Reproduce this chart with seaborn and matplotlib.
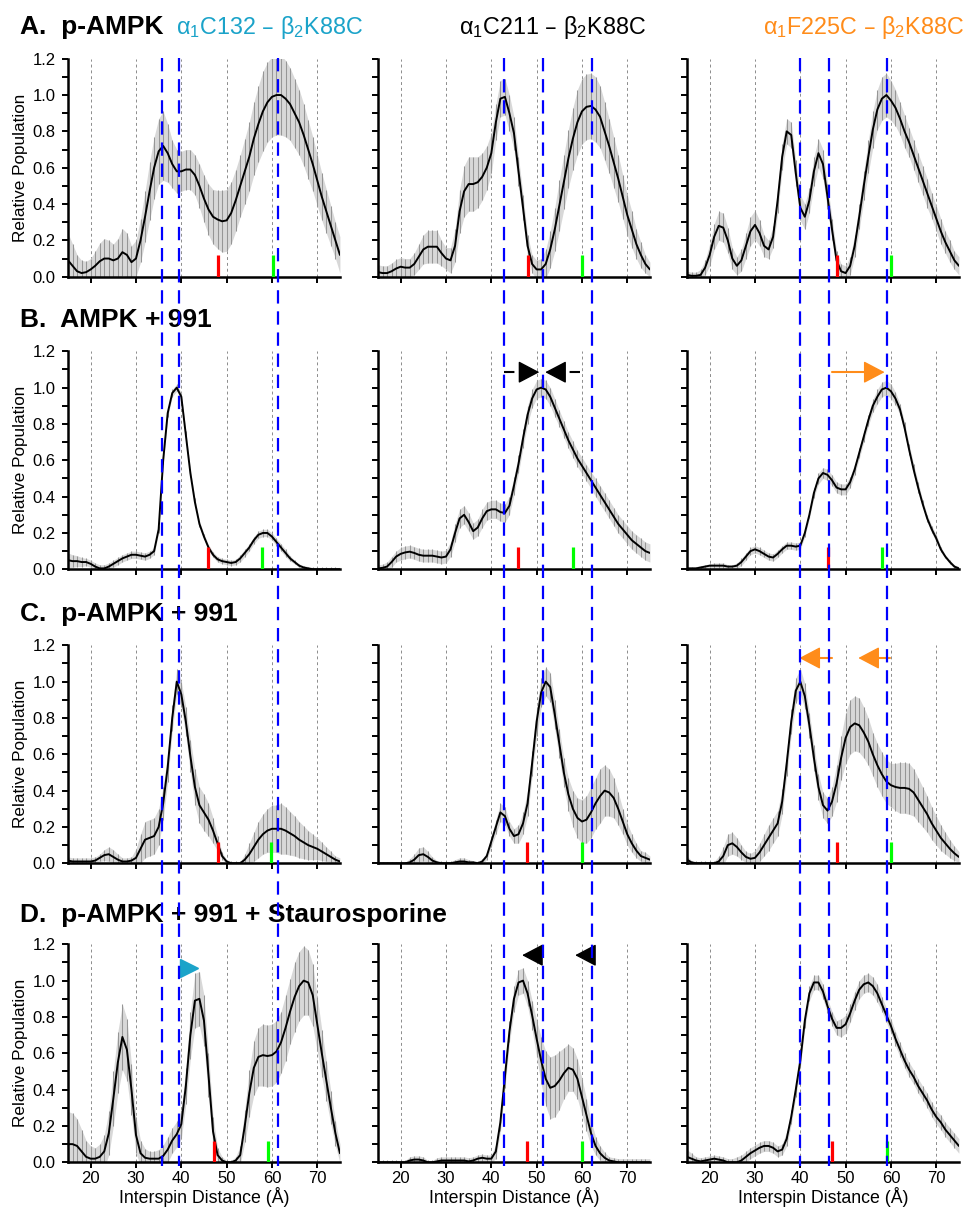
import matplotlib
matplotlib.use("Agg")
import matplotlib.pyplot as plt
import matplotlib.transforms as mtransforms
from matplotlib.lines import Line2D
from matplotlib.ticker import MultipleLocator, FormatStrFormatter
import seaborn as sns

# interspin distance grid (Angstrom), one value per panel sample
distance = list(range(15, 76))

# row A: p-AMPK
a1_pop = [0.09, 0.06, 0.03, 0.02, 0.025, 0.04, 0.06, 0.085, 0.10, 0.10,
          0.09, 0.10, 0.135, 0.12, 0.08, 0.10, 0.20, 0.33, 0.47, 0.60,
          0.69, 0.72, 0.68, 0.62, 0.58, 0.58, 0.59, 0.59, 0.56, 0.50,
          0.43, 0.37, 0.33, 0.315, 0.305, 0.31, 0.35, 0.42, 0.50, 0.58,
          0.66, 0.76, 0.84, 0.91, 0.96, 0.99, 1.00, 1.00, 0.98, 0.95,
          0.90, 0.85, 0.78, 0.70, 0.62, 0.53, 0.44, 0.36, 0.28, 0.20,
          0.12]
a1_err = [0.15, 0.12, 0.09, 0.07, 0.06, 0.06, 0.08, 0.10, 0.11, 0.10,
          0.09, 0.11, 0.13, 0.12, 0.09, 0.10, 0.12, 0.14, 0.16, 0.17,
          0.18, 0.19, 0.16, 0.13, 0.12, 0.11, 0.11, 0.11, 0.11, 0.12,
          0.13, 0.14, 0.15, 0.16, 0.17, 0.17, 0.17, 0.17, 0.17, 0.18,
          0.19, 0.20, 0.21, 0.22, 0.22, 0.22, 0.22, 0.22, 0.21, 0.20,
          0.19, 0.18, 0.17, 0.16, 0.15, 0.14, 0.13, 0.12, 0.11, 0.10,
          0.10]
a2_pop = [0.025, 0.02, 0.02, 0.03, 0.045, 0.055, 0.05, 0.05, 0.07, 0.11,
          0.15, 0.165, 0.165, 0.165, 0.13, 0.10, 0.09, 0.17, 0.36, 0.47,
          0.51, 0.51, 0.52, 0.55, 0.60, 0.68, 0.85, 0.98, 0.99, 0.90,
          0.79, 0.58, 0.38, 0.17, 0.07, 0.04, 0.04, 0.07, 0.15, 0.26,
          0.39, 0.52, 0.65, 0.76, 0.85, 0.91, 0.935, 0.94, 0.92, 0.88,
          0.80, 0.72, 0.63, 0.54, 0.44, 0.34, 0.26, 0.18, 0.12, 0.07,
          0.04]
a2_err = [0.04, 0.04, 0.04, 0.045, 0.05, 0.05, 0.05, 0.05, 0.06, 0.07,
          0.08, 0.09, 0.09, 0.09, 0.07, 0.06, 0.07, 0.09, 0.12, 0.14,
          0.15, 0.15, 0.14, 0.13, 0.12, 0.11, 0.10, 0.10, 0.10, 0.10,
          0.09, 0.08, 0.07, 0.06, 0.05, 0.05, 0.06, 0.08, 0.10, 0.12,
          0.14, 0.15, 0.16, 0.17, 0.18, 0.18, 0.18, 0.18, 0.18, 0.17,
          0.16, 0.15, 0.14, 0.13, 0.12, 0.11, 0.10, 0.08, 0.07, 0.05,
          0.04]
a3_pop = [0.01, 0.005, 0.005, 0.01, 0.05, 0.12, 0.22, 0.28, 0.27, 0.20,
          0.10, 0.06, 0.09, 0.17, 0.25, 0.285, 0.24, 0.17, 0.15, 0.22,
          0.42, 0.66, 0.80, 0.78, 0.57, 0.38, 0.33, 0.42, 0.58, 0.68,
          0.62, 0.44, 0.26, 0.09, 0.03, 0.02, 0.06, 0.17, 0.33, 0.50,
          0.66, 0.81, 0.92, 0.98, 1.00, 0.97, 0.93, 0.87, 0.80, 0.74,
          0.67, 0.60, 0.53, 0.46, 0.39, 0.32, 0.25, 0.19, 0.14, 0.09,
          0.06]
a3_err = [0.02, 0.02, 0.02, 0.03, 0.04, 0.06, 0.07, 0.08, 0.08, 0.07,
          0.06, 0.05, 0.06, 0.07, 0.08, 0.08, 0.07, 0.06, 0.05, 0.06,
          0.07, 0.07, 0.07, 0.07, 0.07, 0.07, 0.07, 0.07, 0.08, 0.08,
          0.08, 0.07, 0.06, 0.05, 0.04, 0.04, 0.05, 0.06, 0.07, 0.08,
          0.09, 0.10, 0.11, 0.12, 0.12, 0.11, 0.10, 0.09, 0.09, 0.08,
          0.08, 0.08, 0.08, 0.08, 0.07, 0.07, 0.07, 0.06, 0.06, 0.05,
          0.05]

# row B: AMPK + 991
b1_pop = [0.05, 0.045, 0.045, 0.04, 0.04, 0.03, 0.015, 0.005, 0.005, 0.015,
          0.03, 0.045, 0.06, 0.07, 0.08, 0.08, 0.075, 0.07, 0.08, 0.10,
          0.22, 0.60, 0.86, 0.97, 1.00, 0.95, 0.74, 0.53, 0.37, 0.25,
          0.18, 0.12, 0.08, 0.055, 0.045, 0.04, 0.035, 0.04, 0.06, 0.09,
          0.12, 0.16, 0.19, 0.20, 0.20, 0.18, 0.15, 0.12, 0.09, 0.06,
          0.04, 0.02, 0.01, 0.005, 0.0, 0.0, 0.0, 0.0, 0.0, 0.0,
          0.0]
b1_err = [0.04, 0.035, 0.03, 0.025, 0.02, 0.02, 0.02, 0.02, 0.02, 0.02,
          0.02, 0.02, 0.02, 0.02, 0.02, 0.02, 0.02, 0.02, 0.02, 0.02,
          0.02, 0.02, 0.02, 0.02, 0.02, 0.02, 0.02, 0.02, 0.02, 0.015,
          0.015, 0.015, 0.015, 0.015, 0.015, 0.015, 0.015, 0.015, 0.02, 0.02,
          0.02, 0.02, 0.02, 0.02, 0.02, 0.02, 0.02, 0.02, 0.02, 0.015,
          0.01, 0.01, 0.01, 0.01, 0.01, 0.01, 0.01, 0.01, 0.01, 0.01,
          0.01]
b2_pop = [0.005, 0.008, 0.015, 0.04, 0.07, 0.085, 0.093, 0.097, 0.09, 0.08,
          0.075, 0.075, 0.075, 0.07, 0.065, 0.07, 0.11, 0.20, 0.28, 0.30,
          0.26, 0.21, 0.23, 0.28, 0.32, 0.33, 0.33, 0.315, 0.31, 0.35,
          0.46, 0.58, 0.72, 0.85, 0.94, 0.99, 1.00, 0.99, 0.95, 0.89,
          0.83, 0.77, 0.71, 0.66, 0.61, 0.57, 0.53, 0.49, 0.45, 0.41,
          0.37, 0.33, 0.29, 0.25, 0.22, 0.19, 0.16, 0.14, 0.12, 0.10,
          0.09]
b2_err = [0.02, 0.02, 0.025, 0.03, 0.03, 0.035, 0.035, 0.035, 0.035, 0.035,
          0.035, 0.035, 0.035, 0.035, 0.035, 0.035, 0.04, 0.05, 0.05, 0.05,
          0.05, 0.045, 0.045, 0.05, 0.05, 0.05, 0.05, 0.05, 0.05, 0.05,
          0.05, 0.05, 0.05, 0.05, 0.05, 0.05, 0.05, 0.05, 0.05, 0.05,
          0.045, 0.045, 0.045, 0.045, 0.045, 0.045, 0.045, 0.045, 0.05, 0.05,
          0.05, 0.05, 0.05, 0.05, 0.05, 0.05, 0.05, 0.05, 0.05, 0.05,
          0.05]
b3_pop = [0.005, 0.005, 0.005, 0.01, 0.015, 0.02, 0.02, 0.02, 0.02, 0.015,
          0.015, 0.02, 0.04, 0.07, 0.10, 0.11, 0.10, 0.085, 0.07, 0.065,
          0.085, 0.11, 0.13, 0.13, 0.125, 0.13, 0.20, 0.30, 0.42, 0.50,
          0.53, 0.52, 0.49, 0.45, 0.44, 0.44, 0.48, 0.55, 0.64, 0.73,
          0.82, 0.90, 0.95, 0.99, 1.00, 0.98, 0.94, 0.88, 0.78, 0.66,
          0.55, 0.45, 0.36, 0.28, 0.22, 0.17, 0.11, 0.07, 0.04, 0.015,
          0.005]
b3_err = [0.01, 0.01, 0.01, 0.01, 0.01, 0.01, 0.015, 0.015, 0.015, 0.01,
          0.01, 0.015, 0.02, 0.02, 0.02, 0.02, 0.02, 0.02, 0.02, 0.02,
          0.02, 0.02, 0.02, 0.02, 0.02, 0.02, 0.02, 0.02, 0.025, 0.03,
          0.03, 0.03, 0.03, 0.03, 0.03, 0.03, 0.03, 0.03, 0.03, 0.03,
          0.03, 0.035, 0.04, 0.04, 0.04, 0.04, 0.035, 0.03, 0.03, 0.03,
          0.03, 0.03, 0.02, 0.02, 0.02, 0.02, 0.015, 0.01, 0.01, 0.01,
          0.01]

# row C: p-AMPK + 991
c1_pop = [0.015, 0.01, 0.01, 0.01, 0.01, 0.01, 0.015, 0.03, 0.045, 0.05,
          0.035, 0.02, 0.01, 0.01, 0.015, 0.03, 0.08, 0.13, 0.14, 0.15,
          0.20, 0.33, 0.53, 0.80, 1.00, 0.93, 0.78, 0.59, 0.42, 0.32,
          0.28, 0.24, 0.18, 0.11, 0.04, 0.01, 0.0, 0.0, 0.0, 0.02,
          0.05, 0.09, 0.13, 0.16, 0.18, 0.19, 0.19, 0.19, 0.18, 0.165,
          0.15, 0.13, 0.115, 0.10, 0.09, 0.08, 0.065, 0.05, 0.035, 0.02,
          0.01]
c1_err = [0.02, 0.02, 0.02, 0.02, 0.02, 0.02, 0.02, 0.02, 0.03, 0.04,
          0.04, 0.03, 0.02, 0.02, 0.02, 0.05, 0.08, 0.10, 0.10, 0.10,
          0.10, 0.09, 0.08, 0.07, 0.07, 0.07, 0.08, 0.09, 0.10, 0.10,
          0.10, 0.09, 0.07, 0.04, 0.02, 0.01, 0.01, 0.01, 0.01, 0.03,
          0.06, 0.08, 0.10, 0.11, 0.12, 0.13, 0.13, 0.14, 0.13, 0.12,
          0.11, 0.10, 0.09, 0.08, 0.07, 0.06, 0.05, 0.04, 0.03, 0.02,
          0.02]
c2_pop = [0.0, 0.0, 0.0, 0.0, 0.0, 0.0, 0.0, 0.005, 0.02, 0.045,
          0.05, 0.035, 0.015, 0.005, 0.0, 0.0, 0.0, 0.005, 0.01, 0.01,
          0.005, 0.005, 0.0, 0.01, 0.04, 0.12, 0.20, 0.28, 0.26, 0.19,
          0.15, 0.16, 0.22, 0.33, 0.55, 0.78, 0.94, 1.00, 0.97, 0.82,
          0.66, 0.50, 0.38, 0.30, 0.25, 0.23, 0.24, 0.28, 0.33, 0.37,
          0.40, 0.39, 0.36, 0.30, 0.23, 0.16, 0.11, 0.07, 0.04, 0.03,
          0.02]
c2_err = [0.005, 0.005, 0.005, 0.005, 0.005, 0.005, 0.005, 0.02, 0.03, 0.04,
          0.04, 0.03, 0.02, 0.01, 0.01, 0.01, 0.01, 0.015, 0.02, 0.02,
          0.015, 0.01, 0.01, 0.015, 0.02, 0.03, 0.04, 0.05, 0.05, 0.04,
          0.04, 0.05, 0.06, 0.07, 0.07, 0.08, 0.08, 0.08, 0.08, 0.08,
          0.08, 0.08, 0.09, 0.10, 0.11, 0.12, 0.13, 0.14, 0.14, 0.15,
          0.14, 0.13, 0.11, 0.09, 0.07, 0.06, 0.05, 0.04, 0.03, 0.03,
          0.02]
c3_pop = [0.02, 0.005, 0.0, 0.0, 0.0, 0.0, 0.0, 0.01, 0.04, 0.10,
          0.11, 0.09, 0.06, 0.035, 0.025, 0.03, 0.06, 0.10, 0.14, 0.18,
          0.22, 0.34, 0.55, 0.78, 0.95, 1.00, 0.92, 0.76, 0.58, 0.42,
          0.32, 0.29, 0.34, 0.44, 0.58, 0.69, 0.75, 0.77, 0.76, 0.72,
          0.67, 0.60, 0.54, 0.49, 0.45, 0.43, 0.42, 0.415, 0.415, 0.41,
          0.39, 0.35, 0.31, 0.27, 0.22, 0.18, 0.14, 0.11, 0.08, 0.055,
          0.035]
c3_err = [0.02, 0.01, 0.01, 0.01, 0.01, 0.01, 0.01, 0.03, 0.05, 0.06,
          0.06, 0.05, 0.04, 0.03, 0.03, 0.04, 0.05, 0.06, 0.07, 0.07,
          0.07, 0.07, 0.07, 0.07, 0.07, 0.07, 0.07, 0.07, 0.07, 0.07,
          0.07, 0.07, 0.08, 0.10, 0.12, 0.14, 0.15, 0.15, 0.15, 0.14,
          0.13, 0.12, 0.12, 0.12, 0.12, 0.12, 0.13, 0.14, 0.14, 0.14,
          0.13, 0.12, 0.11, 0.10, 0.09, 0.08, 0.07, 0.06, 0.05, 0.04,
          0.03]

# row D: p-AMPK + 991 + Staurosporine
d1_pop = [0.10, 0.10, 0.09, 0.06, 0.03, 0.02, 0.02, 0.03, 0.06, 0.16,
          0.35, 0.55, 0.69, 0.62, 0.40, 0.15, 0.05, 0.025, 0.02, 0.02,
          0.02, 0.035, 0.07, 0.12, 0.155, 0.21, 0.42, 0.70, 0.89, 0.90,
          0.78, 0.48, 0.17, 0.04, 0.01, 0.0, 0.0, 0.01, 0.04, 0.20,
          0.38, 0.52, 0.58, 0.59, 0.585, 0.59, 0.61, 0.66, 0.74, 0.83,
          0.91, 0.97, 1.00, 0.99, 0.92, 0.76, 0.60, 0.45, 0.30, 0.16,
          0.05]
d1_err = [0.18, 0.17, 0.15, 0.12, 0.09, 0.07, 0.06, 0.07, 0.09, 0.12,
          0.15, 0.17, 0.18, 0.17, 0.14, 0.10, 0.07, 0.05, 0.04, 0.04,
          0.05, 0.06, 0.07, 0.07, 0.07, 0.08, 0.10, 0.13, 0.15, 0.15,
          0.14, 0.12, 0.08, 0.04, 0.02, 0.01, 0.01, 0.02, 0.05, 0.09,
          0.13, 0.15, 0.16, 0.17, 0.17, 0.17, 0.17, 0.17, 0.18, 0.18,
          0.19, 0.19, 0.19, 0.18, 0.17, 0.15, 0.13, 0.11, 0.09, 0.07,
          0.05]
d2_pop = [0.0, 0.0, 0.0, 0.0, 0.0, 0.0, 0.0, 0.01, 0.015, 0.015,
          0.01, 0.0, 0.0, 0.005, 0.01, 0.01, 0.01, 0.01, 0.01, 0.01,
          0.005, 0.01, 0.02, 0.025, 0.02, 0.02, 0.06, 0.22, 0.47, 0.72,
          0.90, 0.99, 1.00, 0.93, 0.81, 0.68, 0.56, 0.46, 0.41, 0.42,
          0.45, 0.49, 0.52, 0.51, 0.46, 0.36, 0.26, 0.16, 0.09, 0.05,
          0.025, 0.01, 0.005, 0.0, 0.0, 0.0, 0.0, 0.0, 0.0, 0.0,
          0.0]
d2_err = [0.01, 0.01, 0.01, 0.01, 0.01, 0.01, 0.01, 0.02, 0.02, 0.02,
          0.02, 0.01, 0.01, 0.02, 0.02, 0.02, 0.02, 0.02, 0.02, 0.02,
          0.02, 0.02, 0.02, 0.02, 0.02, 0.02, 0.04, 0.05, 0.06, 0.06,
          0.07, 0.07, 0.07, 0.07, 0.08, 0.10, 0.13, 0.15, 0.17, 0.17,
          0.16, 0.14, 0.13, 0.12, 0.11, 0.10, 0.09, 0.07, 0.05, 0.04,
          0.03, 0.02, 0.02, 0.02, 0.02, 0.02, 0.02, 0.02, 0.02, 0.02,
          0.02]
d3_pop = [0.03, 0.02, 0.01, 0.005, 0.01, 0.015, 0.02, 0.015, 0.01, 0.0,
          0.0, 0.0, 0.01, 0.03, 0.05, 0.065, 0.08, 0.09, 0.09, 0.08,
          0.06, 0.07, 0.13, 0.25, 0.40, 0.56, 0.78, 0.93, 0.99, 0.99,
          0.94, 0.86, 0.79, 0.74, 0.74, 0.76, 0.82, 0.89, 0.95, 0.98,
          0.99, 0.97, 0.93, 0.87, 0.81, 0.75, 0.68, 0.62, 0.56, 0.51,
          0.47, 0.42, 0.38, 0.34, 0.29, 0.25, 0.22, 0.18, 0.15, 0.12,
          0.09]
d3_err = [0.04, 0.03, 0.02, 0.02, 0.02, 0.02, 0.02, 0.02, 0.02, 0.02,
          0.02, 0.03, 0.03, 0.03, 0.03, 0.03, 0.03, 0.03, 0.03, 0.03,
          0.03, 0.03, 0.04, 0.04, 0.04, 0.04, 0.04, 0.04, 0.04, 0.04,
          0.04, 0.04, 0.04, 0.04, 0.05, 0.05, 0.05, 0.05, 0.05, 0.05,
          0.05, 0.05, 0.05, 0.04, 0.04, 0.04, 0.04, 0.04, 0.04, 0.04,
          0.04, 0.04, 0.04, 0.04, 0.04, 0.04, 0.04, 0.04, 0.04, 0.04,
          0.04]

row_titles = ["A.  p-AMPK", "B.  AMPK + 991", "C.  p-AMPK + 991",
              "D.  p-AMPK + 991 + Staurosporine"]
col_titles = [r"α$_\mathregular{1}$C132 – β$_\mathregular{2}$K88C",
              r"α$_\mathregular{1}$C211 – β$_\mathregular{2}$K88C",
              r"α$_\mathregular{1}$F225C – β$_\mathregular{2}$K88C"]
cyan = "#1ba3c9"
orange = "#ff8c1a"
col_colors = [cyan, "black", orange]

# blue dashed reference distances per column, running through all rows
blue_guides = [[35.8, 39.5, 61.4], [42.7, 51.3, 62.2], [40.0, 46.3, 59.1]]
# red / green distance markers per row and column
red_marks = [[48.1, 48.1, 48.1], [45.9, 45.9, 46.1], [48.0, 47.9, 48.1], [47.2, 47.9, 46.9]]
green_marks = [[60.2, 60.0, 60.0], [57.8, 58.0, 58.0], [59.9, 60.0, 60.0], [59.2, 60.0, 59.1]]
# arrows: row, col, tail, tip, height, colour, dashed shaft
arrows = [(1, 1, 42.7, 50.6, 1.085, "black", True),
          (1, 1, 59.6, 51.9, 1.085, "black", True),
          (1, 2, 47.1, 58.6, 1.085, orange, False),
          (2, 2, 46.9, 39.8, 1.13, orange, False),
          (2, 2, 59.9, 52.8, 1.13, orange, False),
          (3, 1, 51.5, 46.8, 1.14, "black", False),
          (3, 1, 62.0, 58.5, 1.14, "black", False)]
head_len = 3.6  # arrow head length in Angstrom

populations = [[a1_pop, a2_pop, a3_pop], [b1_pop, b2_pop, b3_pop],
               [c1_pop, c2_pop, c3_pop], [d1_pop, d2_pop, d3_pop]]
errors = [[a1_err, a2_err, a3_err], [b1_err, b2_err, b3_err],
          [c1_err, c2_err, c3_err], [d1_err, d2_err, d3_err]]

sns.set_style("ticks")
plt.rcParams["font.family"] = ["Liberation Sans", "DejaVu Sans"]
plt.rcParams["axes.linewidth"] = 1.8
plt.rcParams["axes.edgecolor"] = "black"
plt.rcParams["text.color"] = "black"
plt.rcParams["axes.labelcolor"] = "black"

fig = plt.figure(figsize=(9.66, 12.09), dpi=100)
lefts = [68 / 966, 378 / 966, 687 / 966]
bottoms = [1 - 276.7 / 1209, 1 - 569.3 / 1209, 1 - 863.3 / 1209, 1 - 1162.3 / 1209]

axes = []
for r in range(4):
    row_axes = []
    for c in range(3):
        ax = fig.add_axes([lefts[c], bottoms[r], 0.2815, 218 / 1209])
        pop = populations[r][c]
        err = errors[r][c]
        lo = [p - e for p, e in zip(pop, err)]
        hi = [p + e for p, e in zip(pop, err)]
        ax.fill_between(distance, lo, hi, color="#d8d8d8", lw=0, zorder=1)
        ax.vlines(distance, lo, hi, color="#969696", lw=0.75, zorder=2)
        sns.lineplot(x=distance, y=pop, ax=ax, color="black", lw=1.4, zorder=4)
        ax.vlines(red_marks[r][c], 0, 0.12, color="#ff0000", lw=2.3, zorder=5)
        ax.vlines(green_marks[r][c], 0, 0.12, color="#00ff00", lw=2.3, zorder=5)

        ax.set_xlim(15, 75)
        ax.set_ylim(0, 1.2)
        ax.xaxis.set_major_locator(MultipleLocator(10))
        ax.yaxis.set_major_locator(MultipleLocator(0.2))
        ax.yaxis.set_minor_locator(MultipleLocator(0.1))
        ax.yaxis.set_major_formatter(FormatStrFormatter("%.1f"))
        ax.grid(axis="x", color="#8c8c8c", lw=0.7, ls=(0, (3, 3)))
        ax.set_axisbelow(True)
        sns.despine(ax=ax)
        ax.tick_params(which="both", direction="out", width=1.4, length=4, colors="black")
        ax.tick_params(axis="y", labelsize=12, pad=5)
        ax.tick_params(axis="x", labelsize=12, pad=2)
        ax.set_xlabel("")
        ax.set_ylabel("")
        if c > 0:
            ax.tick_params(labelleft=False)
        else:
            ax.set_ylabel("Relative Population", fontsize=12.3, labelpad=3)
        if r < 3:
            ax.tick_params(labelbottom=False)
        else:
            ax.set_xlabel("Interspin Distance (Å)", fontsize=12.8, labelpad=1)
        row_axes.append(ax)
    axes.append(row_axes)

for r, c, tail, tip, y, color, dashed in arrows:
    ax = axes[r][c]
    step = head_len if tip > tail else -head_len
    base = tip - step
    if abs(base - tail) > 0.3:
        ax.plot([tail, base], [y, y], color=color, lw=1.5, clip_on=False, zorder=6,
                dashes=(5, 3.5) if dashed else (None, None))
    ax.annotate("", xy=(tip, y), xytext=(base, y), annotation_clip=False,
                arrowprops=dict(arrowstyle="-|>,head_length=0.95,head_width=0.5",
                                color=color, lw=1.0, shrinkA=0, shrinkB=0,
                                mutation_scale=14))
axes[3][0].plot([41.8], [1.07], marker=">", ms=12.5, color=cyan, clip_on=False, zorder=6)

# dashed blue guides run through every row of a column
y_top = 1 - 58 / 1209
y_bot = 1 - 1166 / 1209
for c, xs in enumerate(blue_guides):
    trans = mtransforms.blended_transform_factory(axes[0][c].transData, fig.transFigure)
    for x in xs:
        fig.add_artist(Line2D([x, x], [y_top, y_bot], transform=trans, color="#0000ff",
                              lw=1.6, dashes=(6, 3.5), zorder=10))

title_baselines = [34, 327, 621, 922]
for title, base in zip(row_titles, title_baselines):
    fig.text(20 / 966, 1 - base / 1209, title, fontsize=19, fontweight="bold",
             va="baseline", ha="left")

col_title_x = [176, 459, 763]
for title, x, color in zip(col_titles, col_title_x, col_colors):
    fig.text(x / 966, 1 - 34 / 1209, title, fontsize=16.8, color=color,
             va="baseline", ha="left")

fig.savefig("out.png", dpi=100)
